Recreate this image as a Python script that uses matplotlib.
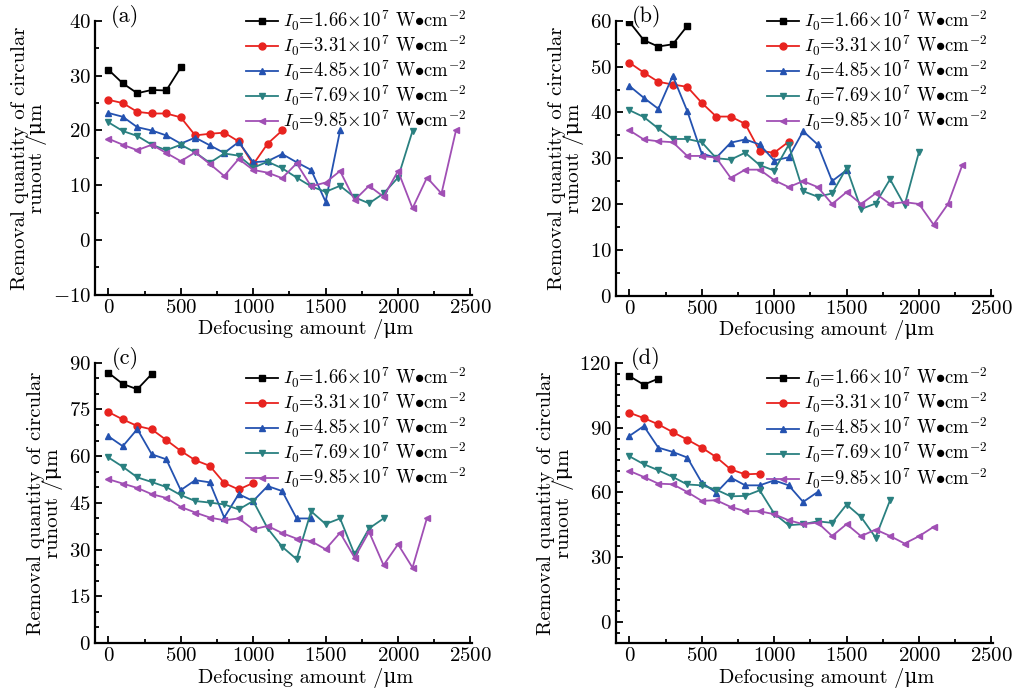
import matplotlib
matplotlib.use("Agg")
import matplotlib.pyplot as plt
from matplotlib.ticker import MultipleLocator

plt.rcParams['font.family'] = ['cmr10', 'DejaVu Serif']
plt.rcParams['mathtext.fontset'] = 'cm'
plt.rcParams['axes.formatter.use_mathtext'] = True

# defocusing amount (um), shared by all series
defocus = [0, 100, 200, 300, 400, 500, 600, 700, 800, 900, 1000, 1100, 1200,
           1300, 1400, 1500, 1600, 1700, 1800, 1900, 2000, 2100, 2200, 2300, 2400]

intensity = ['1.66', '3.31', '4.85', '7.69', '9.85']
colors = ['black', '#e8231f', '#2452b0', '#2a8080', '#a04fb4']
markers = ['s', 'o', '^', 'v', '<']

# panel (a)
a_166 = [31.1, 28.6, 26.8, 27.4, 27.3, 31.5]
a_331 = [25.6, 25.0, 23.4, 23.1, 23.1, 22.4, 19.1, 19.4, 19.6, 18.0, 13.8, 17.6, 20.0]
a_485 = [23.2, 22.5, 20.6, 20.0, 19.1, 17.6, 18.7, 17.3, 15.9, 17.9, 14.2, 14.4, 15.7,
         14.2, 12.8, 7.0, 20.0]
a_769 = [21.5, 19.9, 19.0, 17.4, 16.4, 17.4, 16.0, 14.1, 15.8, 15.4, 13.2, 14.3, 13.1,
         11.4, 9.8, 8.8, 9.9, 7.8, 6.7, 8.5, 11.4, 19.9]
a_985 = [18.5, 17.4, 16.4, 17.4, 15.9, 14.4, 16.0, 13.9, 11.7, 14.8, 12.8, 12.3, 11.3,
         14.0, 9.8, 10.5, 12.6, 7.3, 9.9, 7.9, 12.6, 5.8, 11.4, 8.5, 20.0]

# panel (b)
b_166 = [59.8, 55.8, 54.4, 54.9, 58.9]
b_331 = [50.9, 48.7, 46.7, 46.1, 45.6, 42.1, 39.1, 39.1, 37.5, 31.6, 31.2, 33.6]
b_485 = [45.8, 43.2, 40.8, 48.0, 40.3, 31.0, 30.1, 33.4, 34.1, 33.0, 29.5, 30.2, 35.9,
         33.0, 25.0, 27.4]
b_769 = [40.5, 39.0, 36.5, 34.2, 34.2, 33.5, 30.0, 29.7, 31.2, 28.5, 27.3, 32.9, 22.8,
         21.6, 22.3, 27.9, 18.9, 20.1, 25.4, 19.7, 31.4]
b_985 = [36.1, 34.1, 33.7, 33.5, 30.5, 30.5, 30.1, 25.7, 27.5, 27.5, 25.2, 23.7, 25.0,
         23.7, 20.0, 22.6, 20.0, 22.3, 20.0, 20.4, 20.0, 15.5, 20.0, 28.6]

# panel (c)
c_166 = [86.8, 83.2, 81.5, 86.4]
c_331 = [74.2, 71.8, 69.7, 68.6, 65.2, 61.7, 58.7, 56.9, 51.4, 49.3, 51.4]
c_485 = [66.4, 63.2, 68.7, 60.6, 59.0, 49.1, 52.3, 51.6, 40.3, 47.8, 45.6, 50.4, 48.8,
         40.0, 40.0]
c_769 = [59.6, 56.6, 53.2, 51.7, 50.1, 47.5, 45.6, 45.1, 44.5, 42.9, 45.6, 36.8, 30.9,
         26.9, 42.3, 38.2, 40.0, 28.5, 36.8, 40.0]
c_985 = [52.6, 51.2, 49.8, 47.8, 46.6, 43.7, 41.9, 40.3, 39.4, 40.0, 36.5, 37.6, 35.3,
         33.5, 32.7, 30.1, 35.4, 27.4, 35.7, 25.0, 31.7, 24.2, 40.2]

# panel (d)
d_166 = [114.0, 110.0, 112.8]
d_331 = [97.0, 94.5, 91.6, 88.0, 84.5, 80.8, 76.4, 70.7, 68.4, 68.7]
d_485 = [86.2, 90.8, 80.8, 78.8, 76.2, 64.6, 59.9, 66.9, 63.3, 63.3, 65.6, 63.3, 55.6, 60.2]
d_769 = [76.8, 73.1, 70.3, 67.2, 63.7, 63.3, 61.3, 58.2, 58.4, 61.0, 50.2, 44.8, 45.3,
         46.6, 45.9, 54.4, 48.6, 39.1, 56.4]
d_985 = [70.0, 67.2, 64.1, 63.8, 60.2, 56.1, 56.4, 53.3, 51.3, 51.3, 49.9, 47.1, 45.3,
         46.0, 39.8, 45.3, 39.7, 42.8, 39.8, 36.3, 39.7, 44.0]

panels = [
    ('(a)', [a_166, a_331, a_485, a_769, a_985], (-10, 40), 10, 5),
    ('(b)', [b_166, b_331, b_485, b_769, b_985], (0, 60), 10, 5),
    ('(c)', [c_166, c_331, c_485, c_769, c_985], (0, 90), 15, 5),
    ('(d)', [d_166, d_331, d_485, d_769, d_985], (-10, 120), 30, 5),
]

# axes rectangles in figure fraction (left, bottom, width, height)
rects = [
    (0.0925, 0.577, 0.367, 0.393),
    (0.5998, 0.576, 0.367, 0.394),
    (0.0925, 0.0775, 0.367, 0.402),
    (0.5998, 0.0770, 0.367, 0.402),
]
legend_y = [1.045, 1.045, 0.99, 0.99]

fig = plt.figure(figsize=(10.27, 6.97), dpi=100)

for (tag, series, ylim, major, minor), rect, ly in zip(panels, rects, legend_y):
    ax = fig.add_axes(rect)
    for ys, inten, c, m in zip(series, intensity, colors, markers):
        lab = r'$I_0$=' + inten + r'$\times$10$^7$ W$\bullet$cm$^{-2}$'
        ax.plot(defocus[:len(ys)], ys, color=c, marker=m, markersize=5,
                linewidth=1.3, label=lab)
    ax.set_xlim(-92, 2510)
    ax.set_ylim(*ylim)
    ax.xaxis.set_major_locator(MultipleLocator(500))
    ax.xaxis.set_minor_locator(MultipleLocator(250))
    ax.yaxis.set_major_locator(MultipleLocator(major))
    ax.yaxis.set_minor_locator(MultipleLocator(minor))
    for s in ['top', 'right']:
        ax.spines[s].set_visible(False)
    for s in ['left', 'bottom']:
        ax.spines[s].set_linewidth(1.6)
    ax.tick_params(which='both', direction='in', labelsize=15, width=1.3)
    ax.tick_params(which='major', length=5, pad=3)
    ax.tick_params(which='minor', length=3)
    ax.set_xlabel('Defocusing amount /μm', fontsize=14.5)
    ax.xaxis.set_label_coords(0.56, -0.088)
    ax.set_ylabel('Removal quantity of circular\nrunout /μm', fontsize=15,
                  linespacing=0.9)
    ax.text(0.08, 1.015, tag, transform=ax.transAxes, fontsize=16,
            ha='center', va='center')
    ax.legend(loc='upper left', bbox_to_anchor=(0.40, ly), frameon=False,
              fontsize=13.5, borderpad=0, labelspacing=0.05, handlelength=1.7,
              handletextpad=0.3, borderaxespad=0)

fig.savefig('out.png', dpi=100, facecolor='white')
